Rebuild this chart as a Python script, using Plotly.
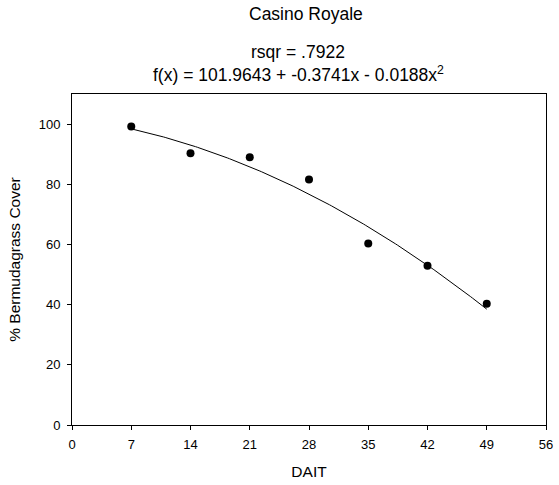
import numpy as np
import plotly.graph_objects as go

# Data
dait = [7, 14, 21, 28, 35, 42, 49]
cover = [99.2, 90.3, 89.0, 81.6, 60.3, 52.9, 40.3]
fit_coef = [101.9643, -0.3741, -0.0188]  # f(x) = a + b x + c x^2
x_ticks = [0, 7, 14, 21, 28, 35, 42, 49, 56]
y_ticks = [0, 20, 40, 60, 80, 100]

xf = np.linspace(min(dait), max(dait), 200)
yf = fit_coef[0] + fit_coef[1] * xf + fit_coef[2] * xf ** 2

W, H = 559, 485
PL, PR, PT, PB = 72, 546, 94, 425
L, R, T, B = PL, W - PR, PT, H - PB

def py(y):
    return (PB - y) / (PB - PT)

def px(x):
    return (x - PL) / (PR - PL)

font = "Liberation Sans, Arial, sans-serif"

fig = go.Figure()
fig.add_trace(go.Scatter(x=xf, y=yf, mode="lines", hoverinfo="skip",
                         line=dict(color="black", width=1), showlegend=False))
fig.add_trace(go.Scatter(x=dait, y=cover, mode="markers",
                         marker=dict(color="black", size=8), showlegend=False))

fig.update_layout(
    width=W, height=H,
    margin=dict(l=L, r=R, t=T, b=B),
    paper_bgcolor="white", plot_bgcolor="white",
    font=dict(family=font, color="black", size=13),
    xaxis=dict(range=[0, 56], tickvals=x_ticks, ticks="outside", ticklen=4,
               tickwidth=1, tickcolor="black", showline=True, linecolor="black",
               linewidth=1, mirror=True, showgrid=False, zeroline=False,
               automargin=False, ticklabelstandoff=3,
               title=dict(text="DAIT", font=dict(size=15.5), standoff=15),
               tickfont=dict(size=13)),
    yaxis=dict(range=[0, 110], tickvals=y_ticks, ticks="outside", ticklen=4,
               tickwidth=1, tickcolor="black", showline=True, linecolor="black",
               linewidth=1, mirror=True, showgrid=False, zeroline=False,
               automargin=False, ticklabelstandoff=4,
               title=dict(text="% Bermudagrass Cover", font=dict(size=15.5), standoff=14),
               tickfont=dict(size=13)),
)

fig.add_annotation(text="Casino Royale", xref="paper", yref="paper",
                   x=px(247), y=py(14), showarrow=False, xanchor="left",
                   yanchor="middle", font=dict(size=17.5))
fig.add_annotation(text="rsqr = .7922", xref="paper", yref="paper",
                   x=px(249), y=py(52), showarrow=False, xanchor="left",
                   yanchor="middle", font=dict(size=17.5))
fig.add_annotation(text="f(x) = 101.9643 + -0.3741x - 0.0188x<sup>2</sup>",
                   xref="paper", yref="paper",
                   x=px(151), y=py(74), showarrow=False, xanchor="left",
                   yanchor="middle", font=dict(size=17.5))

fig.write_html("out.html", config={"displayModeBar": False},
               post_script="document.body.style.margin='0px';document.body.style.padding='0px';")
